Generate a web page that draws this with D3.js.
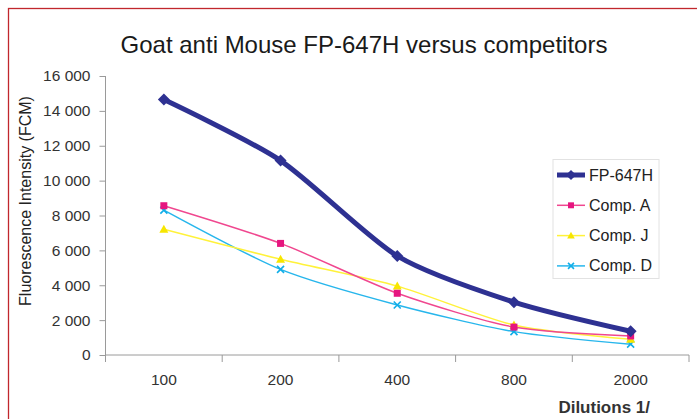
<!DOCTYPE html>
<html><head><meta charset="utf-8">
<script src="https://cdn.jsdelivr.net/npm/d3@7"></script>
<style>body{margin:0;background:#fff;}svg{display:block;font-family:"Liberation Sans",Arial,sans-serif;}</style>
</head><body><svg id="c" width="697" height="419"></svg>
<script>
const categories = ["100","200","400","800","2000"];
const yTicks = [0,2000,4000,6000,8000,10000,12000,14000,16000];
const seriesNames = ["FP-647H","Comp. A","Comp. J","Comp. D"];
const fp647h = [14650,11150,5680,3030,1360];
const compA  = [8560,6400,3540,1600,1090];
const compJ  = [7210,5490,3950,1720,900];
const compD  = [8310,4910,2870,1340,620];
const colors = ["#2e3192","#f0478f","#fff23a","#27b6ec"];
const markerColors = ["#2e3192","#e6157f","#f7e600","#10aee8"];

const series = [fp647h, compA, compJ, compD];
const svg = d3.select("#c");

// frame
svg.append("rect").attr("x",8.5).attr("y",8.5).attr("width",720).attr("height",440)
  .attr("fill","none").attr("stroke","#c1272d").attr("stroke-width",1.3);

svg.append("text").attr("x",364).attr("y",53).attr("text-anchor","middle")
  .attr("font-size",24).attr("fill","#1a1a1a").text("Goat anti Mouse FP-647H versus competitors");

const x = d3.scaleBand().domain(categories).range([105.5,689]);
const y = d3.scaleLinear().domain([0,16000]).range([355,76]);

const fmt = d => d3.format(",")(d).replace(/,/g," ");

const ya = svg.append("g").attr("transform","translate(105.5,0)")
  .call(d3.axisLeft(y).tickValues(yTicks).tickFormat(fmt).tickSize(6).tickPadding(9));
ya.select(".domain").attr("stroke","#9a9a9a").attr("d","M0,76V355");
ya.selectAll(".tick line").attr("stroke","#9a9a9a");
ya.selectAll(".tick text").attr("font-size",15.5).attr("fill","#333").attr("font-family","Liberation Sans, Arial, sans-serif");

const xa = svg.append("g").attr("transform","translate(0,355)")
  .call(d3.axisBottom(x).tickSize(0).tickPadding(19));
xa.select(".domain").attr("stroke","#9a9a9a").attr("d","M105.5,0H689");
xa.selectAll(".tick text").attr("font-size",15.5).attr("fill","#333").attr("font-family","Liberation Sans, Arial, sans-serif");
// boundary ticks between categories
const bounds = categories.map(c=>x(c)).concat([x.range()[1]]);
svg.append("g").selectAll("line").data(bounds).join("line")
  .attr("x1",d=>d).attr("x2",d=>d).attr("y1",355).attr("y2",362).attr("stroke","#9a9a9a");

svg.append("text").attr("transform","translate(31,201) rotate(-90)").attr("text-anchor","middle")
  .attr("font-size",16).attr("fill","#222").text("Fluorescence Intensity (FCM)");
svg.append("text").attr("x",650).attr("y",413).attr("text-anchor","end").attr("font-weight","bold")
  .attr("font-size",17).attr("fill","#333").text("Dilutions 1/");

const line = d3.line().x((d,i)=>x(categories[i])+x.bandwidth()/2).y(d=>y(d)).curve(d3.curveCardinal.tension(0.25));
const widths = [5,1.5,1.5,1.5];

function marker(g, k, cx, cy, scale){
  const s = scale||1;
  if(k===0){
    g.append("path").attr("d",`M${cx},${cy-6*s}L${cx+6*s},${cy}L${cx},${cy+6*s}L${cx-6*s},${cy}Z`).attr("fill",markerColors[0]);
  } else if(k===1){
    g.append("rect").attr("x",cx-3.5*s).attr("y",cy-3.5*s).attr("width",7*s).attr("height",7*s).attr("fill",markerColors[1]);
  } else if(k===2){
    g.append("path").attr("d",`M${cx},${cy-4.5*s}L${cx+4.5*s},${cy+3.5*s}L${cx-4.5*s},${cy+3.5*s}Z`).attr("fill",markerColors[2]);
  } else {
    g.append("path").attr("d",`M${cx-3.5*s},${cy-3.5*s}L${cx+3.5*s},${cy+3.5*s}M${cx-3.5*s},${cy+3.5*s}L${cx+3.5*s},${cy-3.5*s}`)
      .attr("stroke",markerColors[3]).attr("stroke-width",1.6);
  }
}

// draw in reverse so FP is on top
const plot = svg.append("g");
[3,2,1,0].forEach(k=>{
  plot.append("path").datum(series[k]).attr("d",line).attr("fill","none")
    .attr("stroke",colors[k]).attr("stroke-width",widths[k]).attr("stroke-linejoin","round");
  const g = plot.append("g");
  series[k].forEach((v,i)=>marker(g,k,x(categories[i])+x.bandwidth()/2,y(v)));
});

// legend
const lg = svg.append("g");
lg.append("rect").attr("x",553).attr("y",159.5).attr("width",106).attr("height",119)
  .attr("fill","#fff").attr("stroke","#e2e2e2");
seriesNames.forEach((n,k)=>{
  const ly = 175 + k*30.3;
  lg.append("line").attr("x1",557).attr("x2",585).attr("y1",ly).attr("y2",ly)
    .attr("stroke",colors[k]).attr("stroke-width",widths[k]);
  marker(lg,k,571,ly,0.85);
  lg.append("text").attr("x",589).attr("y",ly+5.5).attr("font-size",16).attr("fill","#222").text(n);
});
</script></body></html>
